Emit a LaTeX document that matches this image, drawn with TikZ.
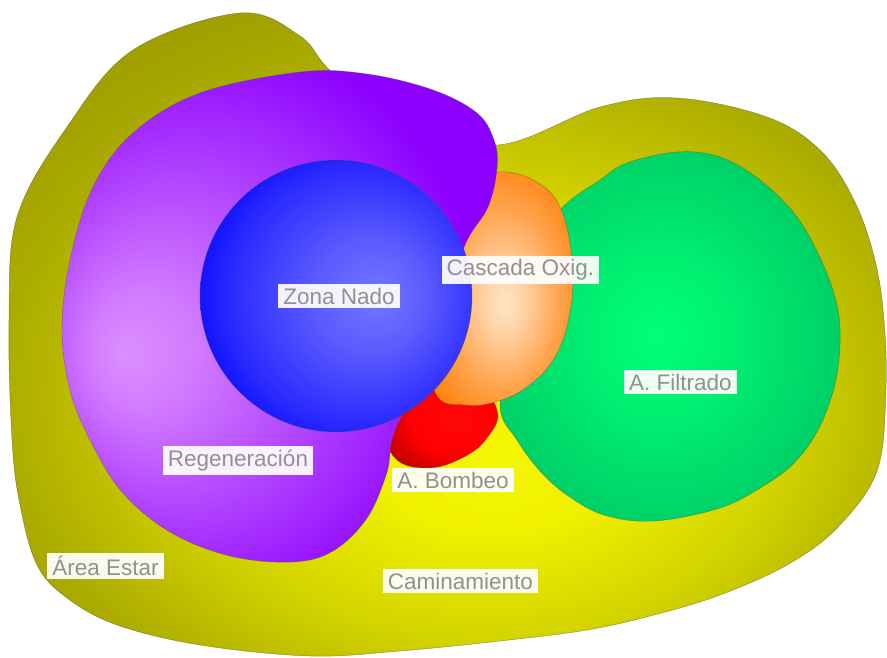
\documentclass[tikz,border=0pt]{standalone}
\usepackage{fontspec}
\setmainfont{Liberation Sans}
\definecolor{lbltext}{RGB}{145,145,145}
\definecolor{edgeline}{RGB}{90,90,60}
\pgfdeclareradialshading{olivesh}{\pgfpoint{3bp}{-10bp}}{rgb(0bp)=(0.96,0.96,0.02); rgb(7bp)=(0.94,0.94,0.0); rgb(17bp)=(0.83,0.83,0.0); rgb(27bp)=(0.67,0.67,0.0); rgb(35bp)=(0.59,0.59,0.0); rgb(50bp)=(0.55,0.55,0.0)}
\pgfdeclareradialshading{purplesh}{\pgfpoint{-18bp}{-4bp}}{rgb(0bp)=(0.86,0.56,1.0); rgb(6bp)=(0.82,0.48,1.0); rgb(20bp)=(0.66,0.2,1.0); rgb(30bp)=(0.55,0.0,1.0); rgb(50bp)=(0.55,0.0,1.0)}
\pgfdeclareradialshading{bluesh}{\pgfpoint{8bp}{0bp}}{rgb(0bp)=(0.46,0.46,1.0); rgb(10bp)=(0.36,0.36,1.0); rgb(24bp)=(0.16,0.16,1.0); rgb(32bp)=(0.0,0.0,1.0); rgb(50bp)=(0.0,0.0,1.0)}
\pgfdeclareradialshading{orangesh}{\pgfpoint{2bp}{-3bp}}{rgb(0bp)=(1.0,0.9,0.78); rgb(7bp)=(1.0,0.82,0.64); rgb(19bp)=(1.0,0.64,0.3); rgb(29bp)=(1.0,0.52,0.07); rgb(50bp)=(1.0,0.48,0.0)}
\pgfdeclareradialshading{redsh}{\pgfpoint{8bp}{0bp}}{rgb(0bp)=(1.0,0.03,0.03); rgb(18bp)=(1.0,0.0,0.0); rgb(32bp)=(0.72,0.0,0.0); rgb(50bp)=(0.65,0.0,0.0)}
\pgfdeclareradialshading{greensh}{\pgfpoint{-2bp}{0bp}}{rgb(0bp)=(0.0,1.0,0.47); rgb(9bp)=(0.0,0.95,0.45); rgb(23bp)=(0.0,0.84,0.41); rgb(32bp)=(0.0,0.76,0.38); rgb(50bp)=(0.0,0.72,0.36)}
\tikzset{
  zone/.style={draw=edgeline, draw opacity=0.6, line width=0.45pt},
  lbl/.style={fill=white, fill opacity=0.93, text opacity=1, text=lbltext,
    inner xsep=5pt, inner ysep=3.5pt, font=\fontsize{22.5}{27}\selectfont}
}
\begin{document}
\begin{tikzpicture}[x=1pt,y=-1pt]
\useasboundingbox (0,0) rectangle (887,658);
% Area Estar / Caminamiento (outer blob)
\path[zone, shading=olivesh] plot[smooth cycle, tension=0.6] coordinates {
 (240,13) (300,36) (332,72) (400,120) (497,145) (600,107) (677,98) (767,117)
 (820,150) (854,200) (875,260) (884,320) (886,390) (877,471) (837,528)
 (787,565) (720,595) (654,615) (587,630) (500,641) (400,651) (310,656)
 (200,645) (117,625) (67,598) (37,565) (20,505) (12,440) (9,320) (17,217)
 (67,127) (133,50)};
% A. Filtrado
\path[zone, shading=greensh] plot[smooth cycle, tension=0.6] coordinates {
 (563,207) (600,180) (627,163) (677,152) (720,157) (760,180) (797,217)
 (822,262) (837,305) (840,345) (834,388) (818,430) (795,462) (765,485)
 (720,508) (654,521) (604,515) (567,495) (540,471) (517,440) (500,405)
 (515,330) (535,250)};
% A. Bombeo
\path[zone, shading=redsh] plot[smooth cycle, tension=0.7] coordinates {
 (388,425) (395,458) (427,468) (462,458) (487,438) (497,410) (470,378) (420,380)};
% Cascada Oxig.
\path[zone, shading=orangesh] plot[smooth cycle, tension=0.65] coordinates {
 (500,172) (535,181) (560,207) (572,260) (570,312) (555,357) (527,387)
 (495,402) (465,405) (436,394) (426,330) (448,230) (472,185)};
% Regeneracion
\path[zone, shading=purplesh] plot[smooth cycle, tension=0.6] coordinates {
 (300,72) (367,74) (433,90) (477,113) (494,140) (497,168) (488,207)
 (463,250) (440,340) (396,428) (387,472) (367,518) (333,551) (292,562)
 (230,556) (170,532) (122,492) (90,440) (70,390) (62,330) (70,260)
 (93,187) (133,133) (200,93)};
% Zona Nado
\path[zone, shading=bluesh] (336,296) circle[radius=136];
% labels
\node[lbl] (zona) at (339,296) {Zona Nado};
\node[lbl] (cascada) at (520.5,270) {Cascada Oxig.};
\node[lbl] (filtrado) at (680.5,382) {A. Filtrado};
\node[lbl] (regen) at (238,460.5) {Regeneración};
\node[lbl] (bombeo) at (453,480) {A. Bombeo};
\node[lbl] (estar) at (105.5,566) {Área Estar};
\node[lbl] (camin) at (460.5,581) {Caminamiento};
\end{tikzpicture}
\end{document}
